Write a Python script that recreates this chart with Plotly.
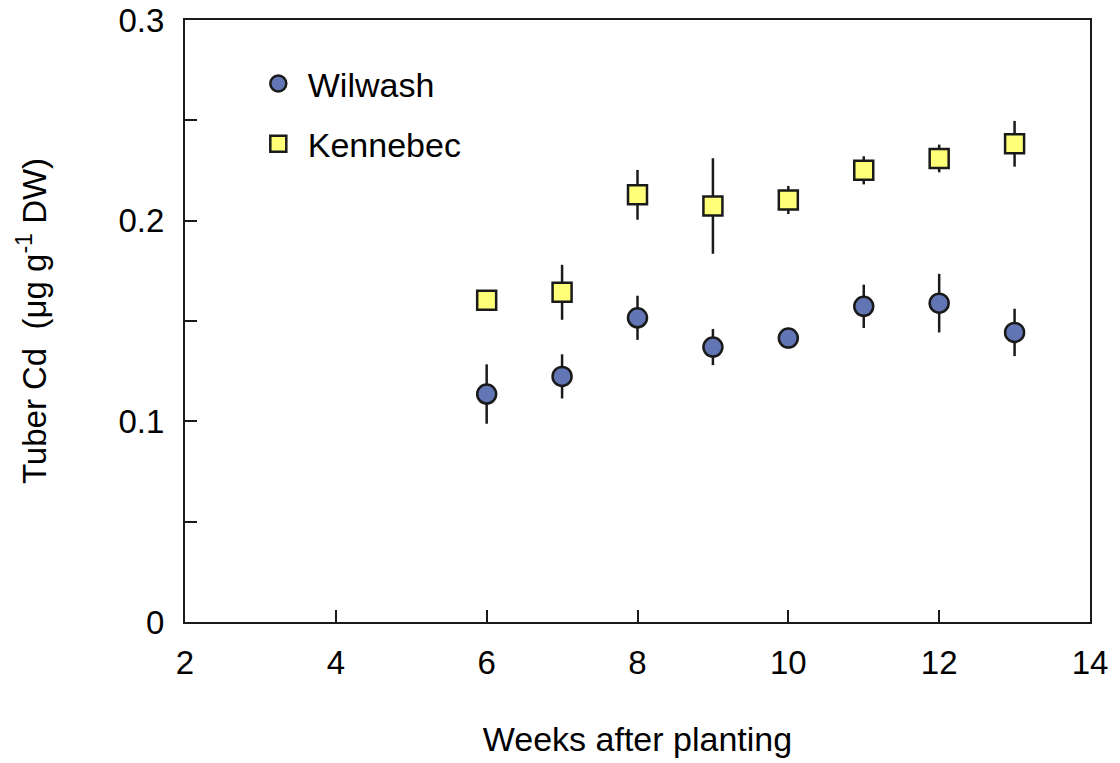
import plotly.graph_objects as go

weeks = [6, 7, 8, 9, 10, 11, 12, 13]
wilwash = [0.1136, 0.1224, 0.1516, 0.1370, 0.1415, 0.1573, 0.1589, 0.1443]
wilwash_err = [0.0148, 0.0110, 0.0110, 0.0090, 0.0030, 0.0108, 0.0146, 0.0118]
kennebec = [0.1603, 0.1643, 0.2129, 0.2073, 0.2103, 0.2251, 0.2310, 0.2383]
kennebec_err = [0.0030, 0.0137, 0.0124, 0.0238, 0.0070, 0.0070, 0.0069, 0.0114]

y_tickvals = [0, 0.1, 0.2, 0.3]
y_ticktext = ["0", "0.1", "0.2", "0.3"]
y_minorvals = [0.05, 0.15, 0.25]
x_tickvals = [2, 4, 6, 8, 10, 12, 14]

FONT = "Liberation Sans, Arial, sans-serif"
EDGE = "#1a1a1a"

fig = go.Figure()
fig.add_trace(go.Scatter(
    x=weeks, y=wilwash, mode="markers", name=" Wilwash", legendgroup="a",
    marker=dict(symbol="circle", size=19, color="#6276B6", line=dict(color=EDGE, width=2.5)),
    error_y=dict(type="data", array=wilwash_err, visible=True, color=EDGE, thickness=2.5, width=0),
))
fig.add_trace(go.Scatter(
    x=weeks, y=kennebec, mode="markers", name=" Kennebec", legendgroup="b",
    marker=dict(symbol="square", size=19, color="#FFFF78", line=dict(color=EDGE, width=2.5)),
    error_y=dict(type="data", array=kennebec_err, visible=True, color=EDGE, thickness=2.5, width=0),
))

fig.update_layout(
    width=1120, height=763,
    margin=dict(l=185, r=30, t=20, b=141),
    paper_bgcolor="white", plot_bgcolor="white",
    font=dict(family=FONT, size=33, color="black"),
    showlegend=True,
    legend=dict(x=0.081, y=0.942, xanchor="left", yanchor="top",
                bgcolor="rgba(0,0,0,0)", font=dict(size=34),
                traceorder="grouped", tracegroupgap=13, itemwidth=30),
    xaxis=dict(range=[2, 14], tickvals=x_tickvals, ticks="inside", ticklen=12,
               tickwidth=2, tickcolor=EDGE, showline=True, linecolor=EDGE, linewidth=2,
               mirror=True, showgrid=False, zeroline=False, automargin=False,
               ticklabelstandoff=10,
               title=dict(text="Weeks after planting", standoff=48, font=dict(size=34))),
    yaxis=dict(range=[0, 0.3], tickvals=y_tickvals, ticktext=y_ticktext, ticks="inside",
               ticklen=12, tickwidth=2, tickcolor=EDGE, showline=True, linecolor=EDGE,
               linewidth=2, mirror=True, showgrid=False, zeroline=False, automargin=False,
               ticklabelstandoff=12,
               minor=dict(tickvals=y_minorvals, ticks="inside", ticklen=12, tickwidth=2,
                          tickcolor=EDGE, showgrid=False),
               title=dict(text="Tuber Cd  (μg g<sup>-1</sup> DW)", standoff=62, font=dict(size=33))),
)

fig.write_html("out.html")
